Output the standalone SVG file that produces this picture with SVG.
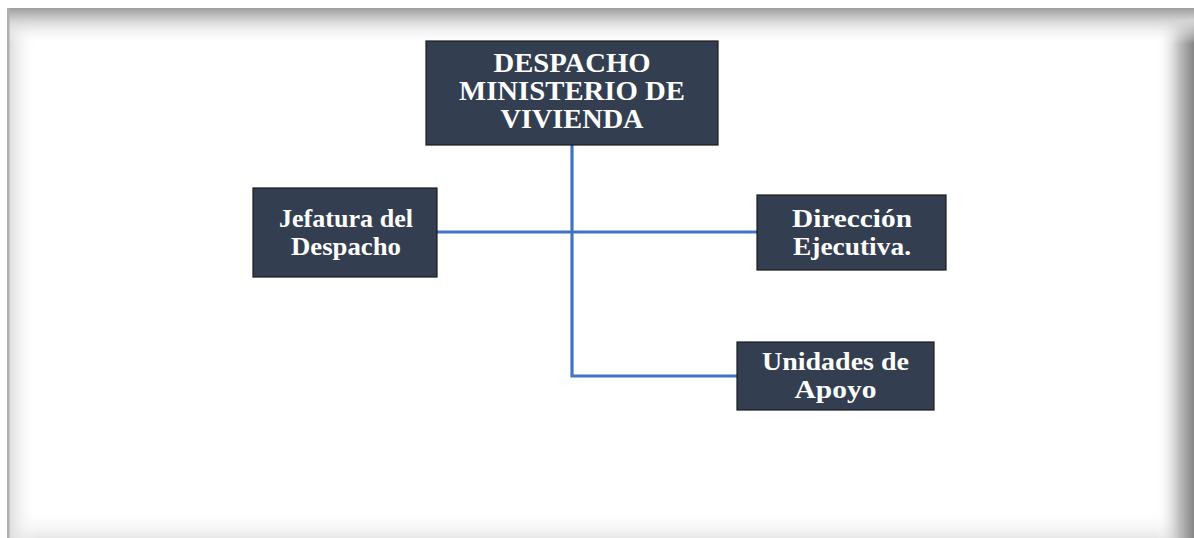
<svg xmlns="http://www.w3.org/2000/svg" width="1194" height="538" viewBox="0 0 1194 538">
<style>
.box{fill:#333e50;stroke:#1b1b1b;stroke-width:1.2}
.t{font-family:"Liberation Serif","Times New Roman",serif;font-weight:bold;fill:#ffffff;text-anchor:middle}
.c{fill:none;stroke:#4472c4;stroke-width:3.2}
</style>
<defs>
<linearGradient id="gTop" x1="0" y1="0" x2="0" y2="1">
<stop offset="0" stop-color="#9e9e9e"/>
<stop offset="0.35" stop-color="#d4d4d4"/>
<stop offset="1" stop-color="#ffffff" stop-opacity="0"/>
</linearGradient>
<linearGradient id="gLeft" x1="0" y1="0" x2="1" y2="0">
<stop offset="0" stop-color="#dcdcdc"/>
<stop offset="1" stop-color="#ffffff" stop-opacity="0"/>
</linearGradient>
<linearGradient id="gRight" x1="0" y1="0" x2="1" y2="0">
<stop offset="0" stop-color="#ffffff" stop-opacity="0"/>
<stop offset="0.6" stop-color="#c0c0c0"/>
<stop offset="1" stop-color="#858585"/>
</linearGradient>
<linearGradient id="gBottom" x1="0" y1="0" x2="0" y2="1">
<stop offset="0" stop-color="#ffffff" stop-opacity="0"/>
<stop offset="1" stop-color="#e8e8e8"/>
</linearGradient>
</defs>
<rect x="0" y="0" width="1194" height="538" fill="#ffffff"/>
<g id="frame">
<rect x="9" y="8" width="1185" height="530" fill="#ffffff"/>
<rect x="9" y="510" width="1185" height="28" fill="url(#gBottom)"/>
<rect x="9" y="8" width="28" height="530" fill="url(#gLeft)"/>
<rect x="1156" y="8" width="38" height="530" fill="url(#gRight)"/>
<rect x="7" y="8" width="1187" height="36" fill="url(#gTop)"/>
<rect x="7" y="8" width="2.5" height="530" fill="#b0b0b0"/>
</g>
<g id="connectors">
<path class="c" d="M572 145 V376 H737"/>
<path class="c" d="M437 232 H757"/>
</g>
<g id="n-despacho">
<rect class="box" x="426" y="41" width="292" height="104"/>
<text class="t" font-size="27" x="572" y="72" textLength="157" lengthAdjust="spacingAndGlyphs">DESPACHO</text>
<text class="t" font-size="27" x="572" y="100" textLength="226" lengthAdjust="spacingAndGlyphs">MINISTERIO DE</text>
<text class="t" font-size="27" x="572" y="128" textLength="143" lengthAdjust="spacingAndGlyphs">VIVIENDA</text>
</g>
<g id="n-jefatura">
<rect class="box" x="253" y="188" width="184" height="89"/>
<text class="t" font-size="26" x="346" y="227" textLength="134" lengthAdjust="spacingAndGlyphs">Jefatura del</text>
<text class="t" font-size="26" x="346" y="255" textLength="110" lengthAdjust="spacingAndGlyphs">Despacho</text>
</g>
<g id="n-direccion">
<rect class="box" x="757" y="195" width="189" height="75"/>
<text class="t" font-size="26" x="852" y="227" textLength="120" lengthAdjust="spacingAndGlyphs">Dirección</text>
<text class="t" font-size="26" x="852" y="255" textLength="118" lengthAdjust="spacingAndGlyphs">Ejecutiva.</text>
</g>
<g id="n-unidades">
<rect class="box" x="737" y="342" width="197" height="68"/>
<text class="t" font-size="26" x="835.5" y="370" textLength="147" lengthAdjust="spacingAndGlyphs">Unidades de</text>
<text class="t" font-size="26" x="835.5" y="398" textLength="82" lengthAdjust="spacingAndGlyphs">Apoyo</text>
</g>
</svg>
